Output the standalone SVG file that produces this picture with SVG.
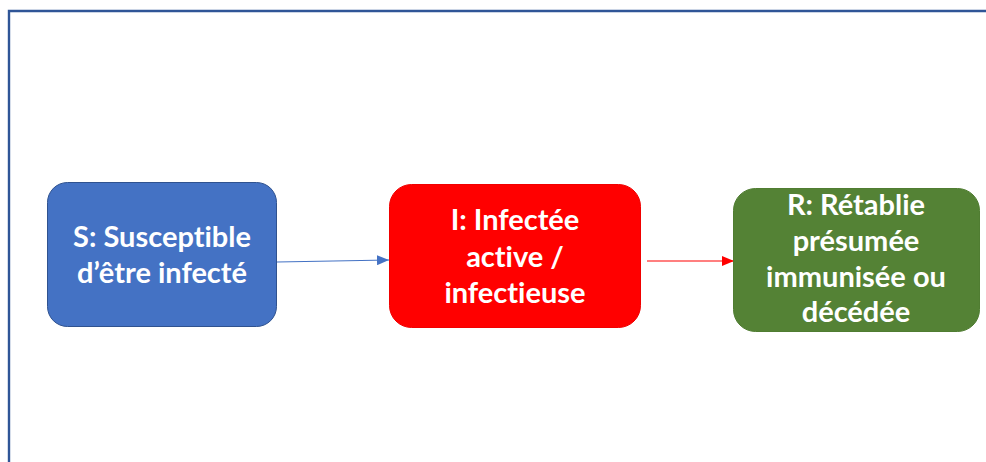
<svg xmlns="http://www.w3.org/2000/svg" width="986" height="462" viewBox="0 0 986 462">
<style>
.lbl{font-family:Lato,"Liberation Sans",sans-serif;font-weight:bold;font-size:29px;fill:#ffffff;text-anchor:middle;font-variant-ligatures:none;font-feature-settings:"liga" 0}
</style>
<defs>
<marker id="ab" markerWidth="12" markerHeight="10" refX="12" refY="5" orient="auto" markerUnits="userSpaceOnUse"><path d="M0,0 L12,5 L0,10 Z" fill="#4472C4"/></marker>
<marker id="ar" markerWidth="12" markerHeight="10" refX="12" refY="5" orient="auto" markerUnits="userSpaceOnUse"><path d="M0,0 L12,5 L0,10 Z" fill="#FF0000"/></marker>
</defs>
<rect width="986" height="462" fill="#ffffff"/>
<path d="M9,462 L9,11 L986,11" fill="none" stroke="#2F5597" stroke-width="2.4"/>
<g id="connectors">
<line x1="277" y1="262" x2="389" y2="260" stroke="#4472C4" stroke-width="1.2" marker-end="url(#ab)"/>
<line x1="647" y1="261" x2="734" y2="261" stroke="#FF0000" stroke-width="1.2" marker-end="url(#ar)"/>
</g>
<g id="S">
<rect x="47.5" y="182.5" width="229" height="144" rx="20" fill="#4472C4" stroke="#2F528F" stroke-width="1"/>
<text class="lbl" x="162" y="247">S: Susceptible</text>
<text class="lbl" x="162" y="283">d’être infecté</text>
</g>
<g id="I">
<rect x="389.5" y="184.5" width="251" height="143" rx="22" fill="#FF0000" stroke="#F00000" stroke-width="1"/>
<text class="lbl" x="515" y="230">I: Infectée</text>
<text class="lbl" x="515" y="267">active /</text>
<text class="lbl" x="515" y="303">infectieuse</text>
</g>
<g id="R">
<rect x="733.5" y="188.5" width="246" height="143" rx="22" fill="#548235" stroke="#507D32" stroke-width="1"/>
<text class="lbl" x="856" y="215">R: Rétablie</text>
<text class="lbl" x="856" y="251">présumée</text>
<text class="lbl" x="856" y="287">immunisée ou</text>
<text class="lbl" x="856" y="322">décédée</text>
</g>
</svg>
